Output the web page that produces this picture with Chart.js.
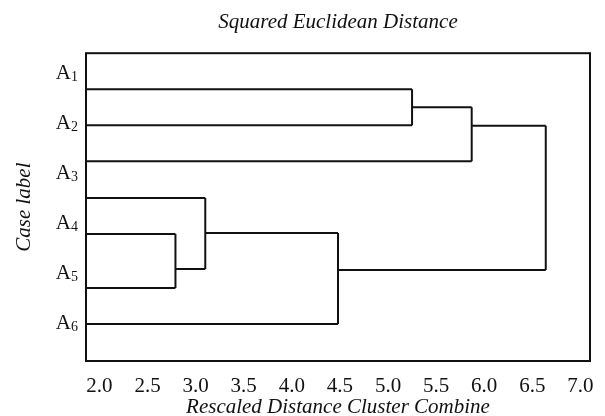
<!DOCTYPE html>
<html>
<head>
<meta charset="utf-8">
<script src="https://cdn.jsdelivr.net/npm/chart.js@4.4.1/dist/chart.umd.min.js"></script>
<style>
  html, body { margin: 0; padding: 0; background: #fff; }
</style>
</head>
<body>
<canvas id="dendro" width="605" height="416"></canvas>
<script>
// Case labels (drawn as A + subscript number)
const caseLabels = ['1', '2', '3', '4', '5', '6'];

// Leaf lines: y position in case-label units, and which merge they go into
const leafY = [1.34, 2.06, 2.78, 3.52, 4.24, 5.32, 6.04];
const leafMerge = [0, 0, 1, 3, 2, 2, 4];

// Merges: combine distance, y of the outgoing line, parent merge
const mergeX = [5.25, 5.87, 2.79, 3.10, 4.48, 6.64];
const mergeOutY = [1.70, 2.07, 4.94, 4.22, 4.96, null];
const mergeParent = [1, 5, 3, 4, 5, -1];

const xTicks = [2.0, 2.5, 3.0, 3.5, 4.0, 4.5, 5.0, 5.5, 6.0, 6.5, 7.0];
const xMin = 1.86, xMax = 7.10;
const yMin = 0.62, yMax = 6.78;

const SERIF = "'Liberation Serif', 'Times New Roman', serif";
const INK = '#111';

// build the elbow segments of the dendrogram
function buildSegments() {
    const segs = [];
    leafY.forEach((y, i) => {
        segs.push([{ x: xMin, y: y }, { x: mergeX[leafMerge[i]], y: y }]);
    });
    mergeX.forEach((x, j) => {
        const ins = [];
        leafY.forEach((y, i) => { if (leafMerge[i] === j) ins.push(y); });
        mergeParent.forEach((p, k) => { if (p === j) ins.push(mergeOutY[k]); });
        segs.push([{ x: x, y: Math.min(...ins) }, { x: x, y: Math.max(...ins) }]);
        if (mergeParent[j] >= 0) {
            segs.push([{ x: x, y: mergeOutY[j] }, { x: mergeX[mergeParent[j]], y: mergeOutY[j] }]);
        }
    });
    return segs;
}

// box round the plot area
const framePlugin = {
    id: 'frame',
    afterDatasetsDraw(chart) {
        const { ctx, chartArea: a } = chart;
        ctx.save();
        ctx.strokeStyle = INK;
        ctx.lineWidth = 2;
        ctx.strokeRect(a.left, a.top, a.right - a.left, a.bottom - a.top);
        ctx.restore();
    }
};

// A1..A6 labels with subscripts, placed by the y scale
const caseLabelPlugin = {
    id: 'caseLabels',
    afterDraw(chart) {
        const { ctx } = chart;
        const yScale = chart.scales.y;
        const right = chart.chartArea.left - 8;
        ctx.save();
        ctx.fillStyle = INK;
        ctx.textBaseline = 'alphabetic';
        ctx.textAlign = 'left';
        caseLabels.forEach((sub, i) => {
            const py = yScale.getPixelForValue(i + 1);
            ctx.font = '21px ' + SERIF;
            const wA = ctx.measureText('A').width;
            ctx.font = '14px ' + SERIF;
            const wS = ctx.measureText(sub).width;
            const x0 = right - wA - wS;
            ctx.font = '21px ' + SERIF;
            ctx.fillText('A', x0, py + 6.5);
            ctx.font = '14px ' + SERIF;
            ctx.fillText(sub, x0 + wA, py + 9);
        });
        ctx.restore();
    }
};

function initChart() {
    const ctx = document.getElementById('dendro').getContext('2d');

    Chart.defaults.font.family = SERIF;
    Chart.defaults.color = INK;

    new Chart(ctx, {
        type: 'scatter',
        data: {
            datasets: buildSegments().map(seg => ({
                data: seg,
                showLine: true,
                borderColor: INK,
                borderWidth: 2,
                pointRadius: 0,
                fill: false
            }))
        },
        options: {
            responsive: false,
            animation: false,
            layout: { padding: { left: 0, right: 15, top: 0, bottom: 0 } },
            plugins: {
                legend: { display: false },
                tooltip: { enabled: false },
                title: {
                    display: true,
                    text: 'Squared Euclidean Distance',
                    fullSize: false,
                    color: INK,
                    font: { size: 21, style: 'italic', weight: 'normal', lineHeight: 1.2 },
                    padding: { top: 10, bottom: 18 }
                }
            },
            scales: {
                x: {
                    type: 'linear',
                    min: xMin,
                    max: xMax,
                    afterBuildTicks: s => { s.ticks = xTicks.map(v => ({ value: v })); },
                    afterFit: s => { s.height = 55; },
                    grid: { display: false },
                    border: { display: false },
                    ticks: {
                        color: INK,
                        padding: 5,
                        maxRotation: 0,
                        autoSkip: false,
                        font: { size: 21, lineHeight: 1.2 },
                        callback: v => Number(v).toFixed(1)
                    },
                    title: {
                        display: true,
                        text: 'Rescaled Distance Cluster Combine',
                        color: INK,
                        font: { size: 21, style: 'italic', lineHeight: 0.8 },
                        padding: { top: 0, bottom: 0 }
                    }
                },
                y: {
                    type: 'linear',
                    reverse: true,
                    min: yMin,
                    max: yMax,
                    afterFit: s => { s.width = 86; },
                    grid: { display: false },
                    border: { display: false },
                    ticks: { display: false },
                    title: {
                        display: true,
                        text: 'Case label',
                        color: INK,
                        font: { size: 21, style: 'italic', lineHeight: 1.2 },
                        padding: { top: 12, bottom: 0 }
                    }
                }
            }
        },
        plugins: [framePlugin, caseLabelPlugin]
    });
}

document.addEventListener('DOMContentLoaded', () => {
    initChart();
});
</script>
</body>
</html>
